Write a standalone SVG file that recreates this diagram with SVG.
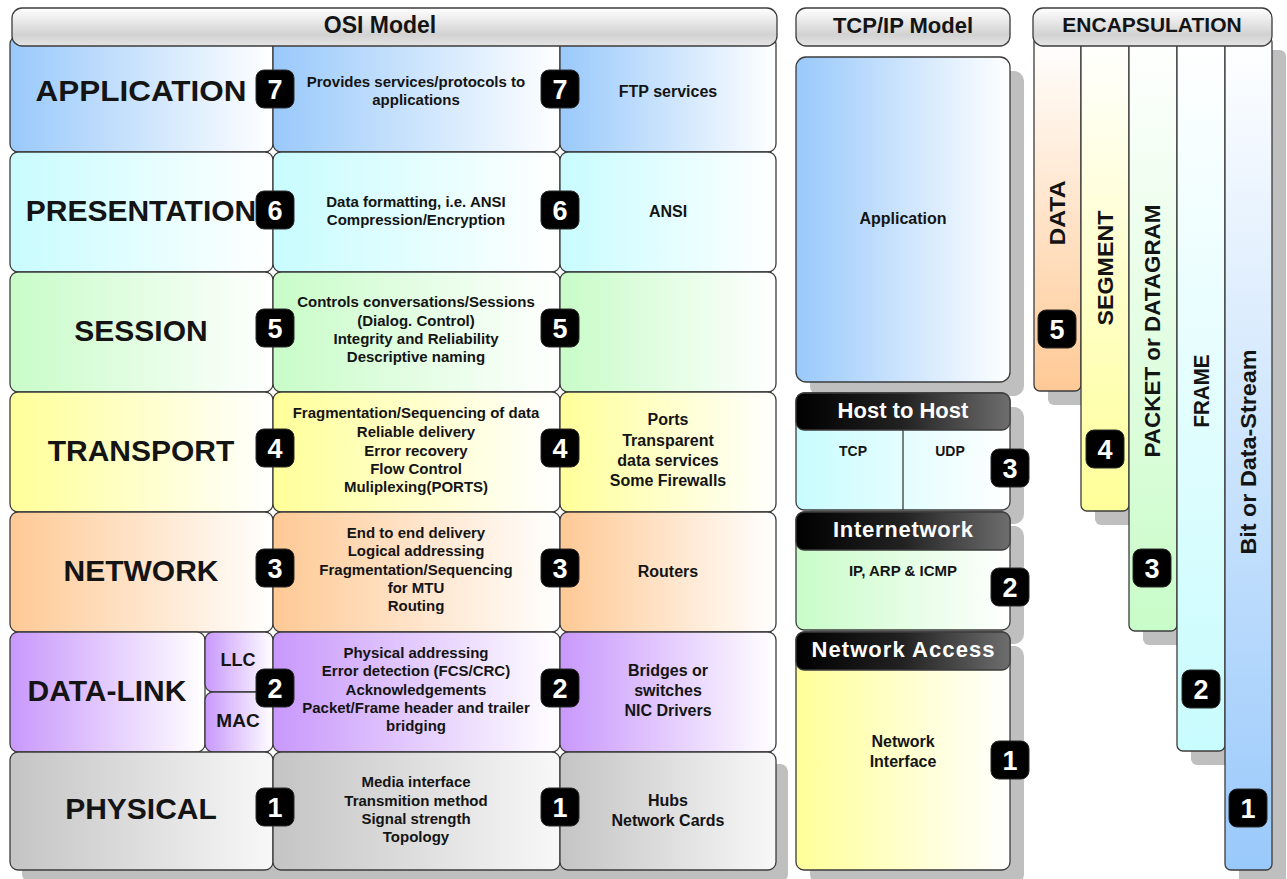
<svg xmlns="http://www.w3.org/2000/svg" width="1287" height="879" viewBox="0 0 1287 879">
<defs>
<linearGradient id="gBlue" x1="0" y1="0" x2="1" y2="0"><stop offset="0" stop-color="#99c9fb"/><stop offset="1" stop-color="#ffffff"/></linearGradient>
<linearGradient id="gCyan" x1="0" y1="0" x2="1" y2="0"><stop offset="0" stop-color="#c8fcfe"/><stop offset="1" stop-color="#ffffff"/></linearGradient>
<linearGradient id="gGreen" x1="0" y1="0" x2="1" y2="0"><stop offset="0" stop-color="#c8fcc8"/><stop offset="1" stop-color="#ffffff"/></linearGradient>
<linearGradient id="gYellow" x1="0" y1="0" x2="1" y2="0"><stop offset="0" stop-color="#ffff99"/><stop offset="1" stop-color="#ffffff"/></linearGradient>
<linearGradient id="gOrange" x1="0" y1="0" x2="1" y2="0"><stop offset="0" stop-color="#ffc995"/><stop offset="1" stop-color="#ffffff"/></linearGradient>
<linearGradient id="gPurple" x1="0" y1="0" x2="1" y2="0"><stop offset="0" stop-color="#c898fc"/><stop offset="1" stop-color="#ffffff"/></linearGradient>
<linearGradient id="gGray" x1="0" y1="0" x2="1" y2="0"><stop offset="0" stop-color="#c4c4c4"/><stop offset="1" stop-color="#f8f8f8"/></linearGradient>
<linearGradient id="gHead" x1="0" y1="0" x2="0" y2="1"><stop offset="0" stop-color="#ffffff"/><stop offset="0.7" stop-color="#d2d2d2"/><stop offset="1" stop-color="#e4e4e4"/></linearGradient>
<linearGradient id="gDark" x1="0" y1="0" x2="1" y2="0"><stop offset="0" stop-color="#000000"/><stop offset="0.5" stop-color="#222222"/><stop offset="1" stop-color="#6e6e6e"/></linearGradient>
<linearGradient id="vOrange" x1="0" y1="0" x2="0" y2="1"><stop offset="0" stop-color="#ffffff"/><stop offset="1" stop-color="#ffc995"/></linearGradient>
<linearGradient id="vYellow" x1="0" y1="0" x2="0" y2="1"><stop offset="0" stop-color="#ffffff"/><stop offset="1" stop-color="#ffff99"/></linearGradient>
<linearGradient id="vGreen" x1="0" y1="0" x2="0" y2="1"><stop offset="0" stop-color="#ffffff"/><stop offset="1" stop-color="#c8fcc8"/></linearGradient>
<linearGradient id="vCyan" x1="0" y1="0" x2="0" y2="1"><stop offset="0" stop-color="#ffffff"/><stop offset="1" stop-color="#c8fcfe"/></linearGradient>
<linearGradient id="vBlue" x1="0" y1="0" x2="0" y2="1"><stop offset="0" stop-color="#ffffff"/><stop offset="1" stop-color="#99c9fb"/></linearGradient>
<style>
.cell{stroke:#3c3c3c;stroke-width:1.3}
.head{fill:url(#gHead);stroke:#3c3c3c;stroke-width:1.3}
.dark{fill:url(#gDark);stroke:#3c3c3c;stroke-width:1.3}
.shadow{fill:#bfbfbf}
text{font-family:"Liberation Sans",Arial,sans-serif;font-weight:bold;fill:#141414;text-anchor:middle}
.big{font-size:30px}
.mid{font-size:15px}
.rt{font-size:16px}
.ht{font-size:22px}
.wt{font-size:22px;fill:#ffffff}
.sm{font-size:14px}
.vt{font-size:22px}
.badge rect{fill:#000000;stroke:#2a2a2a;stroke-width:1}
.badge text{fill:#ffffff;font-size:27px}
</style>
</defs>

<!-- OSI shadow -->
<rect class="shadow" x="22" y="764" width="766" height="118" rx="8"/>

<g id="osi-application">
<rect class="cell" x="10" y="36" width="263" height="116" rx="8" fill="url(#gBlue)"/>
<rect class="cell" x="273" y="36" width="287" height="116" rx="8" fill="url(#gBlue)"/>
<rect class="cell" x="560" y="36" width="216" height="116" rx="8" fill="url(#gBlue)"/>
<text class="big" x="141" y="101" textLength="211" lengthAdjust="spacingAndGlyphs">APPLICATION</text>
<text class="mid" x="416" y="87">Provides services/protocols to</text>
<text class="mid" x="416" y="105">applications</text>
<text class="rt" x="668" y="97">FTP services</text>
<g class="badge"><rect x="256" y="70" width="38" height="38" rx="8"/><text x="275" y="99">7</text></g>
<g class="badge"><rect x="541" y="70" width="38" height="38" rx="8"/><text x="560" y="99">7</text></g>
</g>

<g id="osi-presentation">
<rect class="cell" x="10" y="152" width="263" height="120" rx="8" fill="url(#gCyan)"/>
<rect class="cell" x="273" y="152" width="287" height="120" rx="8" fill="url(#gCyan)"/>
<rect class="cell" x="560" y="152" width="216" height="120" rx="8" fill="url(#gCyan)"/>
<text class="big" x="141" y="221">PRESENTATION</text>
<text class="mid" x="416" y="207">Data formatting, i.e. ANSI</text>
<text class="mid" x="416" y="225">Compression/Encryption</text>
<text class="rt" x="668" y="217">ANSI</text>
<g class="badge"><rect x="256" y="191" width="38" height="38" rx="8"/><text x="275" y="220">6</text></g>
<g class="badge"><rect x="541" y="191" width="38" height="38" rx="8"/><text x="560" y="220">6</text></g>
</g>

<g id="osi-session">
<rect class="cell" x="10" y="272" width="263" height="120" rx="8" fill="url(#gGreen)"/>
<rect class="cell" x="273" y="272" width="287" height="120" rx="8" fill="url(#gGreen)"/>
<rect class="cell" x="560" y="272" width="216" height="120" rx="8" fill="url(#gGreen)"/>
<text class="big" x="141" y="341">SESSION</text>
<text class="mid" x="416" y="307">Controls conversations/Sessions</text>
<text class="mid" x="416" y="326">(Dialog. Control)</text>
<text class="mid" x="416" y="344">Integrity and Reliability</text>
<text class="mid" x="416" y="362">Descriptive naming</text>
<g class="badge"><rect x="256" y="309" width="38" height="38" rx="8"/><text x="275" y="338">5</text></g>
<g class="badge"><rect x="541" y="309" width="38" height="38" rx="8"/><text x="560" y="338">5</text></g>
</g>

<g id="osi-transport">
<rect class="cell" x="10" y="392" width="263" height="120" rx="8" fill="url(#gYellow)"/>
<rect class="cell" x="273" y="392" width="287" height="120" rx="8" fill="url(#gYellow)"/>
<rect class="cell" x="560" y="392" width="216" height="120" rx="8" fill="url(#gYellow)"/>
<text class="big" x="141" y="461">TRANSPORT</text>
<text class="mid" x="416" y="418">Fragmentation/Sequencing of data</text>
<text class="mid" x="416" y="437">Reliable delivery</text>
<text class="mid" x="416" y="456">Error recovery</text>
<text class="mid" x="416" y="474">Flow Control</text>
<text class="mid" x="416" y="492">Muliplexing(PORTS)</text>
<text class="rt" x="668" y="425">Ports</text>
<text class="rt" x="668" y="446">Transparent</text>
<text class="rt" x="668" y="466">data services</text>
<text class="rt" x="668" y="486">Some Firewalls</text>
<g class="badge"><rect x="256" y="429" width="38" height="38" rx="8"/><text x="275" y="458">4</text></g>
<g class="badge"><rect x="541" y="429" width="38" height="38" rx="8"/><text x="560" y="458">4</text></g>
</g>

<g id="osi-network">
<rect class="cell" x="10" y="512" width="263" height="120" rx="8" fill="url(#gOrange)"/>
<rect class="cell" x="273" y="512" width="287" height="120" rx="8" fill="url(#gOrange)"/>
<rect class="cell" x="560" y="512" width="216" height="120" rx="8" fill="url(#gOrange)"/>
<text class="big" x="141" y="581">NETWORK</text>
<text class="mid" x="416" y="538">End to end delivery</text>
<text class="mid" x="416" y="556">Logical addressing</text>
<text class="mid" x="416" y="575">Fragmentation/Sequencing</text>
<text class="mid" x="416" y="593">for MTU</text>
<text class="mid" x="416" y="611">Routing</text>
<text class="rt" x="668" y="577">Routers</text>
<g class="badge"><rect x="256" y="549" width="38" height="38" rx="8"/><text x="275" y="578">3</text></g>
<g class="badge"><rect x="541" y="549" width="38" height="38" rx="8"/><text x="560" y="578">3</text></g>
</g>

<g id="osi-datalink">
<rect class="cell" x="10" y="632" width="195" height="120" rx="8" fill="url(#gPurple)"/>
<rect class="cell" x="205" y="632" width="68" height="60" rx="8" fill="url(#gPurple)"/>
<rect class="cell" x="205" y="692" width="68" height="60" rx="8" fill="url(#gPurple)"/>
<rect class="cell" x="273" y="632" width="287" height="120" rx="8" fill="url(#gPurple)"/>
<rect class="cell" x="560" y="632" width="216" height="120" rx="8" fill="url(#gPurple)"/>
<text class="big" x="107" y="701">DATA-LINK</text>
<text x="238" y="666" style="font-size:18px">LLC</text>
<text x="238" y="727" style="font-size:19px">MAC</text>
<text class="mid" x="416" y="658">Physical addressing</text>
<text class="mid" x="416" y="676">Error detection (FCS/CRC)</text>
<text class="mid" x="416" y="695">Acknowledgements</text>
<text class="mid" x="416" y="713">Packet/Frame header and trailer</text>
<text class="mid" x="416" y="731">bridging</text>
<text class="rt" x="668" y="676">Bridges or</text>
<text class="rt" x="668" y="696">switches</text>
<text class="rt" x="668" y="716">NIC Drivers</text>
<g class="badge"><rect x="256" y="669" width="38" height="38" rx="8"/><text x="275" y="698">2</text></g>
<g class="badge"><rect x="541" y="669" width="38" height="38" rx="8"/><text x="560" y="698">2</text></g>
</g>

<g id="osi-physical">
<rect class="cell" x="10" y="752" width="263" height="118" rx="8" fill="url(#gGray)"/>
<rect class="cell" x="273" y="752" width="287" height="118" rx="8" fill="url(#gGray)"/>
<rect class="cell" x="560" y="752" width="216" height="118" rx="8" fill="url(#gGray)"/>
<text class="big" x="141" y="819">PHYSICAL</text>
<text class="mid" x="416" y="787">Media interface</text>
<text class="mid" x="416" y="806">Transmition method</text>
<text class="mid" x="416" y="824">Signal strength</text>
<text class="mid" x="416" y="842">Topology</text>
<text class="rt" x="668" y="806">Hubs</text>
<text class="rt" x="668" y="826">Network Cards</text>
<g class="badge"><rect x="256" y="788" width="38" height="38" rx="8"/><text x="275" y="817">1</text></g>
<g class="badge"><rect x="541" y="788" width="38" height="38" rx="8"/><text x="560" y="817">1</text></g>
</g>

<g id="osi-header">
<rect class="head" x="12" y="8" width="765" height="38" rx="10"/>
<text class="ht" x="380" y="33" style="font-size:23px">OSI Model</text>
</g>

<!-- TCP/IP model -->
<g id="tcpip-header">
<rect class="head" x="796" y="8" width="214" height="38" rx="10"/>
<text class="ht" x="903" y="33">TCP/IP Model</text>
</g>
<g id="tcpip-shadows">
<rect class="shadow" x="810" y="71" width="214" height="325" rx="10"/>
<rect class="shadow" x="810" y="407" width="214" height="117" rx="10"/>
<rect class="shadow" x="810" y="526" width="214" height="118" rx="10"/>
<rect class="shadow" x="810" y="646" width="214" height="238" rx="10"/>
</g>
<g id="tcpip-application">
<rect class="cell" x="796" y="57" width="214" height="325" rx="10" fill="url(#gBlue)"/>
<text class="rt" x="903" y="224">Application</text>
</g>
<g id="tcpip-host">
<rect class="cell" x="796" y="393" width="214" height="117" rx="8" fill="url(#gCyan)"/>
<line x1="903" y1="430" x2="903" y2="510" stroke="#3c3c3c" stroke-width="1.3"/>
<rect class="dark" x="796" y="393" width="214" height="37" rx="8"/>
<text class="wt" x="903" y="418">Host to Host</text>
<text class="sm" x="853" y="456">TCP</text>
<text class="sm" x="950" y="456">UDP</text>
<g class="badge"><rect x="991" y="449" width="38" height="38" rx="8"/><text x="1010" y="478">3</text></g>
</g>
<g id="tcpip-internetwork">
<rect class="cell" x="796" y="512" width="214" height="118" rx="8" fill="url(#gGreen)"/>
<rect class="dark" x="796" y="512" width="214" height="38" rx="8"/>
<text class="wt" x="903" y="537" textLength="140">Internetwork</text>
<text class="mid" x="903" y="576">IP, ARP &amp; ICMP</text>
<g class="badge"><rect x="991" y="568" width="38" height="38" rx="8"/><text x="1010" y="597">2</text></g>
</g>
<g id="tcpip-netaccess">
<rect class="cell" x="796" y="632" width="214" height="238" rx="8" fill="url(#gYellow)"/>
<rect class="dark" x="796" y="632" width="214" height="38" rx="8"/>
<text class="wt" x="903" y="657" textLength="183">Network Access</text>
<text class="rt" x="903" y="747">Network</text>
<text class="rt" x="903" y="767">Interface</text>
<g class="badge"><rect x="991" y="741" width="38" height="38" rx="8"/><text x="1010" y="770">1</text></g>
</g>

<!-- Encapsulation -->
<g id="encap-shadows">
<rect class="shadow" x="1048" y="50" width="47" height="355" rx="6"/>
<rect class="shadow" x="1095" y="50" width="48" height="475" rx="6"/>
<rect class="shadow" x="1143" y="50" width="48" height="595" rx="6"/>
<rect class="shadow" x="1191" y="50" width="48" height="715" rx="6"/>
<rect class="shadow" x="1239" y="50" width="47" height="834" rx="6"/>
</g>
<g id="encap-data">
<rect class="cell" x="1034" y="36" width="47" height="355" rx="6" fill="url(#vOrange)"/>
<text class="vt" transform="translate(1057,213) rotate(-90)" dy="8" textLength="65" lengthAdjust="spacingAndGlyphs">DATA</text>
<g class="badge"><rect x="1038" y="310" width="38" height="38" rx="8"/><text x="1057" y="339">5</text></g>
</g>
<g id="encap-segment">
<rect class="cell" x="1081" y="36" width="48" height="475" rx="6" fill="url(#vYellow)"/>
<text class="vt" transform="translate(1105,268) rotate(-90)" dy="8" textLength="115" lengthAdjust="spacingAndGlyphs">SEGMENT</text>
<g class="badge"><rect x="1086" y="430" width="38" height="38" rx="8"/><text x="1105" y="459">4</text></g>
</g>
<g id="encap-packet">
<rect class="cell" x="1129" y="36" width="48" height="595" rx="6" fill="url(#vGreen)"/>
<text class="vt" transform="translate(1152,331) rotate(-90)" dy="8" textLength="253" lengthAdjust="spacingAndGlyphs">PACKET or DATAGRAM</text>
<g class="badge"><rect x="1133" y="549" width="38" height="38" rx="8"/><text x="1152" y="578">3</text></g>
</g>
<g id="encap-frame">
<rect class="cell" x="1177" y="36" width="48" height="715" rx="6" fill="url(#vCyan)"/>
<text class="vt" transform="translate(1201,391) rotate(-90)" dy="8" textLength="73" lengthAdjust="spacingAndGlyphs">FRAME</text>
<g class="badge"><rect x="1182" y="670" width="38" height="38" rx="8"/><text x="1201" y="699">2</text></g>
</g>
<g id="encap-bit">
<rect class="cell" x="1225" y="36" width="47" height="834" rx="6" fill="url(#vBlue)"/>
<text class="vt" transform="translate(1248,452) rotate(-90)" dy="8" textLength="205" lengthAdjust="spacingAndGlyphs">Bit or Data-Stream</text>
<g class="badge"><rect x="1229" y="789" width="38" height="38" rx="8"/><text x="1248" y="818">1</text></g>
</g>
<g id="encap-header">
<rect class="head" x="1033" y="8" width="239" height="38" rx="10"/>
<text class="ht" x="1152" y="32" style="font-size:21px">ENCAPSULATION</text>
</g>
</svg>
